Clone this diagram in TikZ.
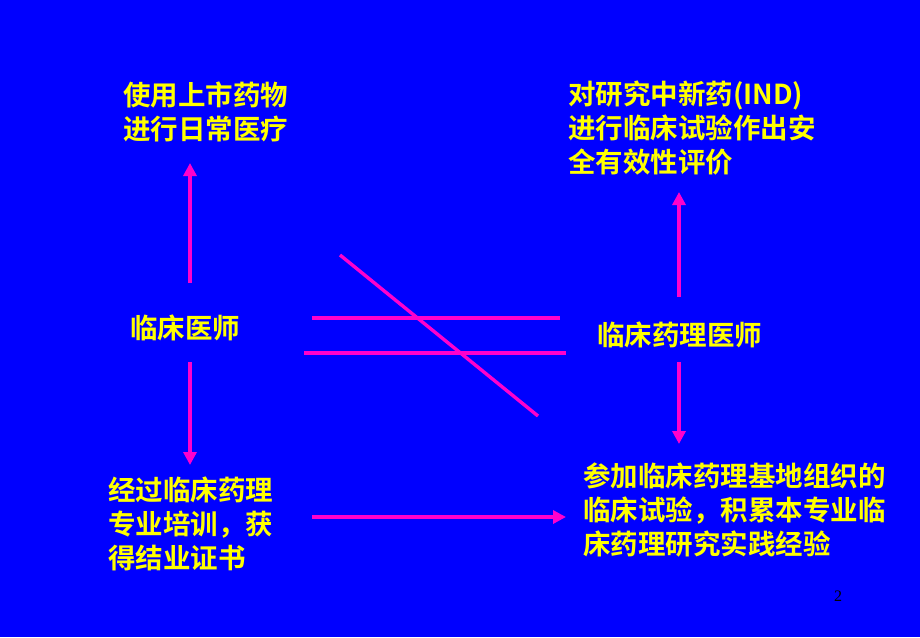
\documentclass[tikz,border=0pt]{standalone}
\usepackage{fontspec}
\newfontfamily\cjk{Noto Sans CJK SC}[BoldFont={Noto Sans CJK SC Bold}]
\setmainfont{Liberation Serif}
\usetikzlibrary{arrows.meta}
\definecolor{bg}{RGB}{0,0,255}
\definecolor{tx}{RGB}{255,255,0}
\definecolor{ln}{RGB}{255,0,204}
\begin{document}
\begin{tikzpicture}[x=1pt,y=-1pt,
  t/.style={text=tx,font=\cjk\bfseries\fontsize{27.5}{34}\selectfont,align=left,anchor=west,inner sep=0},
  a/.style={draw=ln,line width=3.4pt,-{Triangle[length=13pt,width=13pt]}},
  l/.style={draw=ln,line width=3.4pt}]
\fill[bg] (0,0) rectangle (920,637);
\useasboundingbox (0,0) rectangle (920,637);
\node[t] (u) at (123,112) {使用上市药物\\进行日常医疗};
\node[t] (d) at (130,328) {临床医师};
\node[t] (e) at (108,524) {经过临床药理\\专业培训，获\\得结业证书};
\node[t] (r) at (568,128) {对研究中新药(IND)\\进行临床试验作出安\\全有效性评价};
\node[t] (p) at (597,335) {临床药理医师};
\node[t] (c) at (583,510) {参加临床药理基地组织的\\临床试验，积累本专业临\\床药理研究实践经验};
\node[text=black,font=\fontsize{16}{18}\selectfont] (n) at (838,596) {2};
\coordinate (a1) at (190,283); \coordinate (a2) at (190,163);
\coordinate (b1) at (190,362); \coordinate (b2) at (190,465);
\coordinate (c1) at (679,297); \coordinate (c2) at (679,192);
\coordinate (d1) at (679,362); \coordinate (d2) at (679,444);
\coordinate (h1) at (312,517); \coordinate (h2) at (566,517);
\coordinate (l1) at (312,318); \coordinate (l2) at (560,318);
\coordinate (m1) at (304,353); \coordinate (m2) at (566,353);
\coordinate (k1) at (340,255); \coordinate (k2) at (538,416);
\draw[a] (a1) -- (a2);
\draw[a] (b1) -- (b2);
\draw[a] (c1) -- (c2);
\draw[a] (d1) -- (d2);
\draw[a] (h1) -- (h2);
\draw[l] (l1) -- (l2);
\draw[l] (m1) -- (m2);
\draw[l] (k1) -- (k2);
\end{tikzpicture}
\end{document}
